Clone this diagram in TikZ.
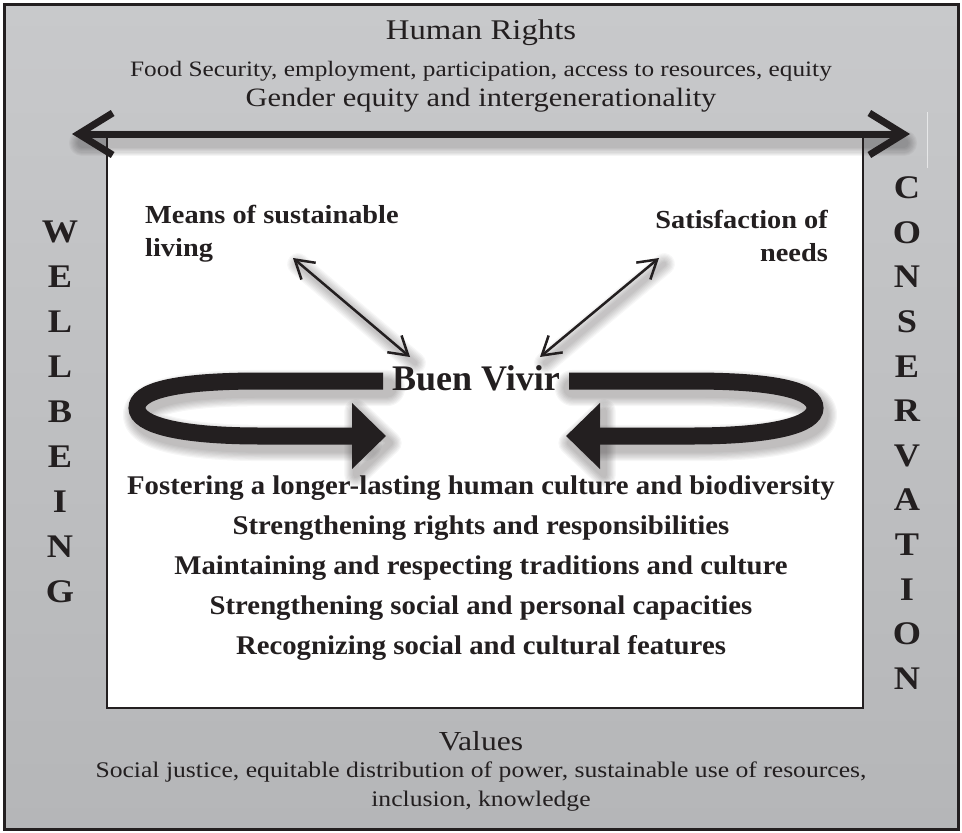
\documentclass[tikz,border=0pt]{standalone}
\usepackage{fontspec}
\setmainfont{Liberation Serif}
\newfontfamily\regfont[FakeStretch=1.15]{Liberation Serif}
\newfontfamily\bldfont[FakeStretch=1.065]{Liberation Serif}
\newfontfamily\lblfont[FakeStretch=1.09]{Liberation Serif}
\newfontfamily\sidefont[FakeStretch=1.1]{Liberation Serif}
\usetikzlibrary{arrows.meta}
\definecolor{bgtop}{HTML}{C8C9CB}
\definecolor{bgmid}{HTML}{68696B}
\definecolor{bgbot}{HTML}{B5B6B8}
\definecolor{ink}{HTML}{231F20}
\tikzset{
  plaintxt/.style={text=ink, inner sep=0pt, align=center},
  boldtxt/.style={text=ink, inner sep=0pt},
  thinarrow/.style={draw=ink, line width=2.5pt, {Straight Barb[length=18pt,width=22pt]}-{Straight Barb[length=18pt,width=22pt]}},
  looparrow/.style={draw=ink, line width=17pt, -{Triangle[length=34pt,width=64pt]}},
  bigarrow/.style={draw=ink, line width=7pt, {Straight Barb[length=34pt,width=42pt]}-{Straight Barb[length=34pt,width=42pt]}},
}
\newcommand\shadowpath[4]{%
  \foreach \k in {1,...,8}{%
    \pgfmathsetmacro\lw{#1+2.4*\k}%
    \draw[ink, opacity=#4, line width=\lw pt, shift={#2}, line cap=round, line join=round] #3;}}
\def\pathTop{(80,134) -- (902,134)}
\def\pathLoopL{(383,381) -- (260,381) .. controls (170,381) and (137,392) .. (137,408) .. controls (137,425) and (180,436) .. (260,436) -- (360,436)}
\def\pathLoopR{(569,381) -- (692,381) .. controls (782,381) and (815,392) .. (815,408) .. controls (815,425) and (772,436) .. (692,436) -- (592,436)}
\def\pathHeadL{(352,404) -- (386,436) -- (352,468) -- cycle}
\def\pathHeadR{(600,404) -- (566,436) -- (600,468) -- cycle}
\def\pathThinL{(293,258) -- (410,357)}
\def\pathThinR{(659,258) -- (540,357)}
\begin{document}
\begin{tikzpicture}[x=1pt,y=-1pt]
\useasboundingbox (0,0) rectangle (962,833);
% background
\shade[top color=bgtop, middle color=bgmid, bottom color=bgbot] (4,4) rectangle (958,829);
% inner white box
\fill[white] (107,134) rectangle (863,708);
\draw[ink, line width=2pt] (107,134) -- (107,708) -- (863,708) -- (863,134);
\draw[white, opacity=0.6, line width=0.8pt] (927,112) -- (927,168);
\draw[ink, line width=3pt] (4,4) rectangle (958,829);

% shadows
\shadowpath{7}{(2,9)}{\pathTop}{0.045}
\shadowpath{17}{(4,7)}{\pathLoopL}{0.04}
\shadowpath{17}{(4,7)}{\pathLoopR}{0.04}
\shadowpath{4}{(4,7)}{\pathHeadL}{0.04}
\shadowpath{4}{(4,7)}{\pathHeadR}{0.04}
\shadowpath{2.5}{(5,6)}{\pathThinL}{0.035}
\shadowpath{2.5}{(5,6)}{\pathThinR}{0.035}

% top texts
\node[plaintxt, font=\regfont\fontsize{28.5}{32}\selectfont] (hr) at (481,33) {Human Rights};
\node[plaintxt, font=\regfont\fontsize{22}{26}\selectfont] (fs) at (481,71) {Food Security, employment, participation, access to resources, equity};
\node[plaintxt, font=\regfont\fontsize{26.5}{30}\selectfont] (ge) at (481,100) {Gender equity and intergenerationality};

% big double arrow
\coordinate (tl) at (72,134);
\coordinate (tr) at (910,134);
\draw[bigarrow] (tl) -- (tr);

% side words
\node[boldtxt, align=center, font=\sidefont\bfseries\fontsize{33}{45}\selectfont] (wb) at (60,412) {W\\E\\L\\L\\B\\E\\I\\N\\G};
\node[boldtxt, align=center, font=\sidefont\bfseries\fontsize{33}{44.6}\selectfont] (cons) at (907,433) {C\\O\\N\\S\\E\\R\\V\\A\\T\\I\\O\\N};

% corner labels
\node[boldtxt, align=left, anchor=west, font=\lblfont\bfseries\fontsize{26}{33}\selectfont] (means) at (145,234) {Means of sustainable\\living};
\node[boldtxt, align=right, anchor=east, font=\lblfont\bfseries\fontsize{26}{33}\selectfont] (satis) at (828,236) {Satisfaction of\\needs};

% Buen Vivir
\node[boldtxt, font=\bfseries\fontsize{36}{40}\selectfont] (bv) at (476,378) {Buen Vivir};

% thin arrows
\coordinate (m1) at (293,258);
\coordinate (b1) at (410,357);
\coordinate (s1) at (659,258);
\coordinate (b2) at (540,357);
\draw[thinarrow] (m1) -- (b1);
\draw[thinarrow] (s1) -- (b2);

% loops
\coordinate (la) at (383,381);
\coordinate (lb) at (386,436);
\coordinate (ra) at (569,381);
\coordinate (rb) at (566,436);
\draw[looparrow] (la) -- (260,381) .. controls (170,381) and (137,392) .. (137,408) .. controls (137,425) and (180,436) .. (260,436) -- (lb);
\draw[looparrow] (ra) -- (692,381) .. controls (782,381) and (815,392) .. (815,408) .. controls (815,425) and (772,436) .. (692,436) -- (rb);

% list
\node[boldtxt, align=center, font=\bldfont\bfseries\fontsize{27}{40}\selectfont] (list) at (481,568) {Fostering a longer-lasting human culture and biodiversity\\Strengthening rights and responsibilities\\Maintaining and respecting traditions and culture\\Strengthening social and personal capacities\\Recognizing social and cultural features};

% bottom
\node[plaintxt, font=\regfont\fontsize{27.5}{30}\selectfont] (val) at (481,741) {Values};
\node[plaintxt, font=\regfont\fontsize{22.3}{29}\selectfont] (vl) at (481,787) {Social justice, equitable distribution of power, sustainable use of resources,\\inclusion, knowledge};
\end{tikzpicture}
\end{document}
